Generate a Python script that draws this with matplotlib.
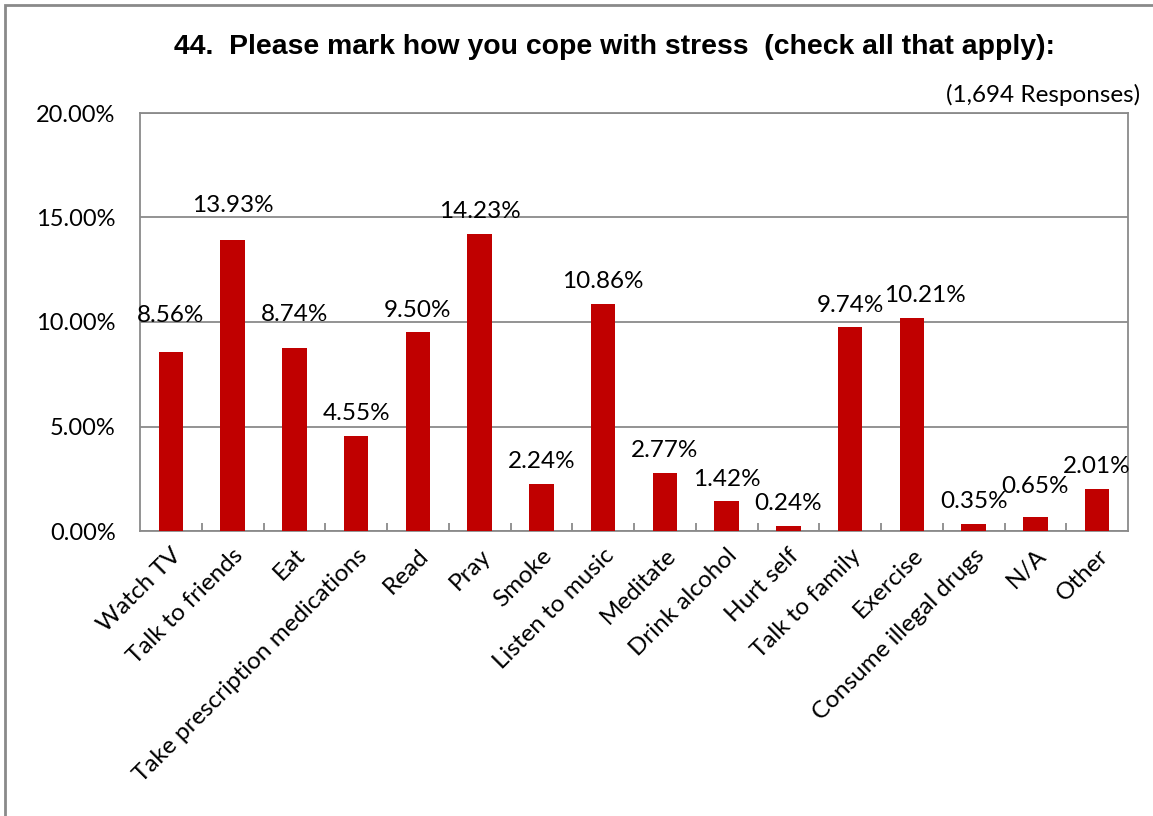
import numpy as np
import matplotlib.pyplot as plt
from matplotlib.patches import Rectangle

# --- datos del gráfico ---
categorias = ['Watch TV', 'Talk to friends', 'Eat', 'Take prescription medications',
              'Read', 'Pray', 'Smoke', 'Listen to music', 'Meditate', 'Drink alcohol',
              'Hurt self', 'Talk to family', 'Exercise', 'Consume illegal drugs',
              'N/A', 'Other']
porcentajes = [8.56, 13.93, 8.74, 4.55, 9.50, 14.23, 2.24, 10.86, 2.77, 1.42,
               0.24, 9.74, 10.21, 0.35, 0.65, 2.01]
y_ticks = [0, 5, 10, 15, 20]

titulo = '44.  Please mark how you cope with stress  (check all that apply):'
nota = '(1,694 Responses)'

# etiquetas que en el original están desplazadas a mano (dx, dy en puntos)
desplazadas = {'Watch TV': (0, 10), 'Talk to friends': (0, 8.5), 'Eat': (0, 8.5),
               'Exercise': (9.5, 0), 'N/A': (0, 6.5)}

fuente = ['Lato', 'DejaVu Sans']
gris = '#8a8a8a'
rojo = '#C00000'

fig = plt.figure(figsize=(11.53, 8.16), dpi=100)
ax = fig.add_axes([140 / 1153, 1 - 531 / 816, 988 / 1153, 418 / 816])

x = np.arange(len(categorias))
ax.bar(x, porcentajes, width=0.4, color=rojo, zorder=3)

for xi, v, cat in zip(x, porcentajes, categorias):
    dx, dy = desplazadas.get(cat, (0, 0))
    ax.annotate(f'{v:.2f}%', (xi, v), xytext=(dx, 8.5 + dy), textcoords='offset points',
                ha='center', va='bottom', fontsize=17.5, family=fuente, zorder=4)

ax.set_xlim(-0.5, len(categorias) - 0.5)
ax.set_ylim(0, 20)
ax.set_yticks(y_ticks)
ax.set_yticklabels([f'{t:.2f}%' for t in y_ticks], family=fuente, fontsize=17)
ax.yaxis.grid(True, color=gris, linewidth=1.3, zorder=0)
ax.tick_params(axis='y', length=0, pad=17.5)

# categorías con marcas entre barras
ax.set_xticks(x)
ax.set_xticklabels(categorias, rotation=45, ha='right', rotation_mode='anchor',
                   family=fuente, fontsize=17.5)
ax.tick_params(axis='x', length=0, pad=10)
ax.set_xticks(np.arange(0.5, len(categorias) - 0.5), minor=True)
ax.tick_params(axis='x', which='minor', direction='in', length=6, color=gris, width=1.3)

for s in ax.spines.values():
    s.set_color(gris)
    s.set_linewidth(1.3)

fig.text(614 / 1153, 1 - 47 / 816, titulo, ha='center', va='center',
         fontsize=20.4, fontweight='bold', family=['Liberation Sans', 'DejaVu Sans'])
fig.text(1140 / 1153, 1 - 95 / 816, nota, ha='right', va='center',
         fontsize=17.5, family=fuente)

# borde del gráfico
fig.patches.append(Rectangle((5 / 1153, -0.05), 1.1, 1 - 5 / 816 + 0.05,
                             transform=fig.transFigure, fill=False,
                             edgecolor=gris, linewidth=2))

fig.savefig('out.png', dpi=100)
